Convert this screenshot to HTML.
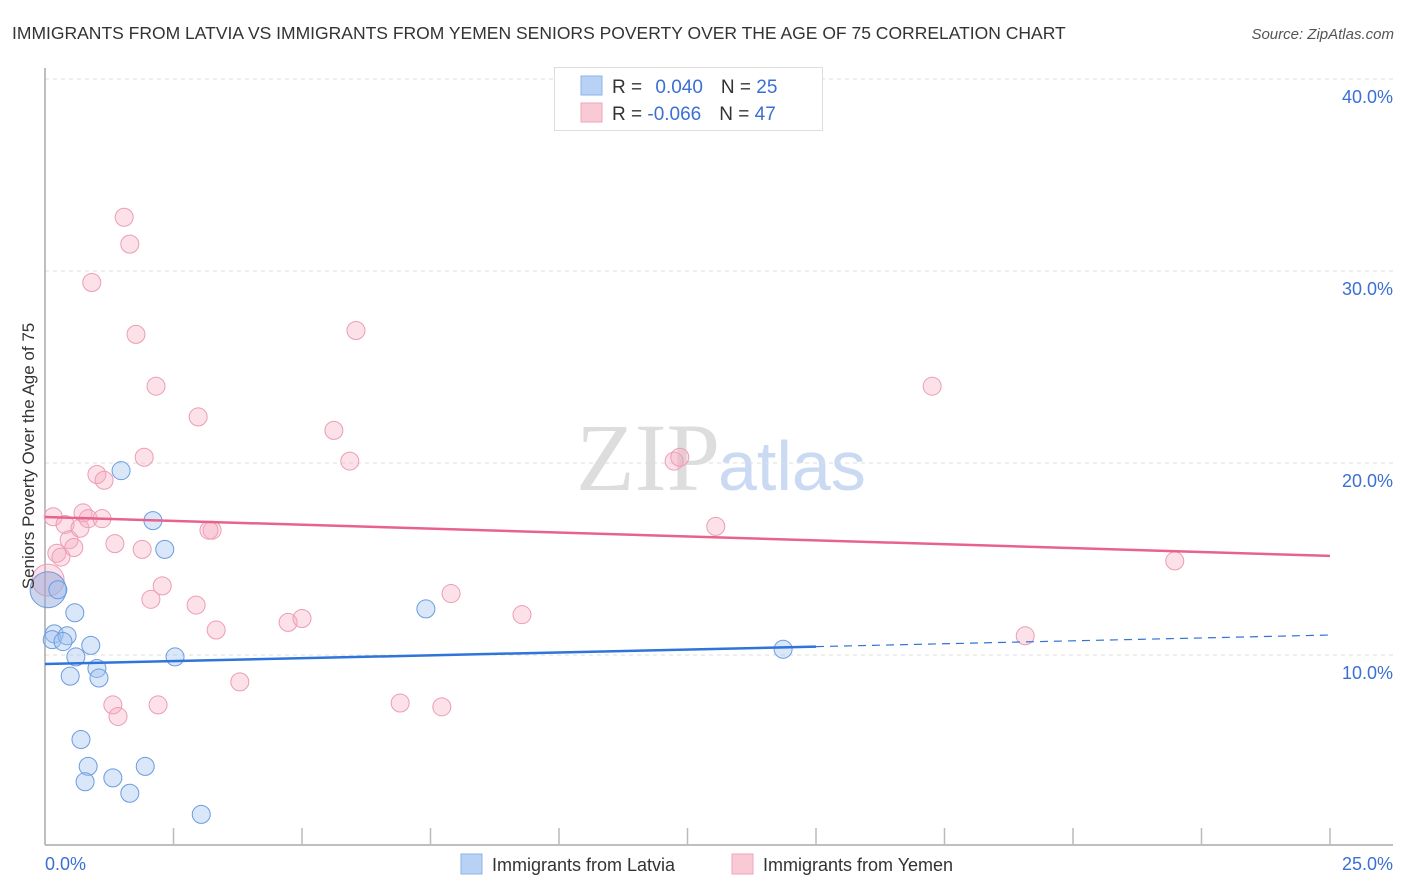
<!DOCTYPE html>
<html><head><meta charset="utf-8"><style>
body{margin:0;background:#fff;font-family:"Liberation Sans",sans-serif;}
svg{display:block}
</style></head><body>
<svg id="chart" width="1406" height="892" xmlns="http://www.w3.org/2000/svg">
<text x="12" y="39" font-size="17.5" fill="#333">IMMIGRANTS FROM LATVIA VS IMMIGRANTS FROM YEMEN SENIORS POVERTY OVER THE AGE OF 75 CORRELATION CHART</text>
<text x="1394" y="39" font-size="15" fill="#555" font-style="italic" text-anchor="end">Source: ZipAtlas.com</text>
<text x="720" y="490" font-size="96" font-family="Liberation Serif,serif" fill="#ddd" text-anchor="end">ZIP</text>
<text x="718" y="490" font-size="70" fill="#c9daf2">atlas</text>
<g id="grid"></g>
<line x1="45" y1="68" x2="45" y2="845" stroke="#aaa" stroke-width="1.5"/>
<line x1="45" y1="845" x2="1393" y2="845" stroke="#aaa" stroke-width="1.5"/>
<g id="ticks"></g>
<g id="pts"></g>
<g id="trend"></g>
<text transform="translate(34,456) rotate(-90)" font-size="17" fill="#333" text-anchor="middle">Seniors Poverty Over the Age of 75</text>
<text x="45" y="870" font-size="18" fill="#3b6fd4">0.0%</text>
<text x="1393" y="870" font-size="18" fill="#3b6fd4" text-anchor="end">25.0%</text>
<g>
<rect x="554.5" y="67.5" width="268" height="63" fill="#fff" stroke="#ddd"/>
<rect x="581" y="76" width="21" height="19" fill="#b8d2f5" stroke="#8fb3e6"/>
<rect x="581" y="103" width="21" height="19" fill="#f9c9d6" stroke="#eea6bb"/>
<text x="612" y="93" font-size="19" fill="#333">R = <tspan fill="#3b6fd4" dx="8">0.040</tspan><tspan dx="18" fill="#333">N = </tspan><tspan fill="#3b6fd4">25</tspan></text>
<text x="612" y="120" font-size="19" fill="#333">R = <tspan fill="#3b6fd4">-0.066</tspan><tspan dx="18" fill="#333">N = </tspan><tspan fill="#3b6fd4">47</tspan></text>
</g>
<g>
<rect x="461" y="854" width="21" height="20" fill="#b8d2f5" stroke="#8fb3e6"/>
<text x="492" y="871" font-size="18" fill="#333">Immigrants from Latvia</text>
<rect x="732" y="854" width="21" height="20" fill="#f9c9d6" stroke="#eea6bb"/>
<text x="763" y="871" font-size="18" fill="#333">Immigrants from Yemen</text>
</g>
</svg>
<script>
const yTicks=[10,20,30,40];
const yTickLabels=["10.0%","20.0%","30.0%","40.0%"];
const xTickVals=[2.5,5,7.5,10,12.5,15,17.5,20,22.5,25];
const latviaX=[0.06,0.25,0.18,0.14,0.43,0.35,0.58,0.60,0.89,0.49,1.01,1.05,1.48,2.10,2.33,2.53,0.70,0.84,0.78,1.32,1.65,1.95,3.04,7.41,14.36];
const latviaY=[13.4,13.4,11.1,10.8,11.0,10.7,12.2,9.9,10.5,8.9,9.3,8.8,19.6,17.0,15.5,9.9,5.6,4.2,3.4,3.6,2.8,4.2,1.7,12.4,10.3];
const yemenX=[0.16,0.39,0.23,0.31,0.47,0.56,0.68,0.74,0.84,1.11,1.01,1.15,1.36,1.89,1.54,1.65,0.91,1.77,2.16,2.98,1.93,2.06,2.28,2.94,3.25,3.19,3.33,3.79,1.32,1.42,2.20,4.73,5.00,5.62,5.93,6.05,6.91,7.72,7.90,9.28,12.24,12.35,13.05,17.26,19.07,21.98,0.06];
const yemenY=[17.2,16.8,15.3,15.1,16.0,15.6,16.6,17.4,17.1,17.1,19.4,19.1,15.8,15.5,32.8,31.4,29.4,26.7,24.0,22.4,20.3,12.9,13.6,12.6,16.5,16.5,11.3,8.6,7.4,6.8,7.4,11.7,11.9,21.7,20.1,26.9,7.5,7.3,13.2,12.1,20.1,20.3,16.7,24.0,11.0,14.9,13.9];
const latviaTrend=[9.53,11.04];
const yemenTrend=[17.19,15.16];
const NS="http://www.w3.org/2000/svg";
const xs=v=>45+v*51.4, ys=v=>847-v*19.2;
function mk(tag,attrs,parent){const e=document.createElementNS(NS,tag);for(const k in attrs)e.setAttribute(k,attrs[k]);document.getElementById(parent).appendChild(e);return e;}
yTicks.forEach((t,i)=>{
 const l=mk('line',{x1:45,x2:1393,y1:ys(t),y2:ys(t),stroke:'#ddd','stroke-dasharray':'4 4'},'grid');
 
 
 const tx=mk('text',{x:1393,y:ys(t)+24,'font-size':18,fill:'#3b6fd4','text-anchor':'end'},'grid');
 tx.textContent=yTickLabels[i];
 
 
});
xTickVals.forEach(v=>{
 const l=mk('line',{x1:xs(v),x2:xs(v),y1:828,y2:845,stroke:'#bbb','stroke-width':1.5},'ticks');
 
 
});
yemenX.forEach((x,i)=>{
 const big=i===yemenX.length-1;
 const c=mk('circle',{cx:xs(x),cy:ys(yemenY[i]),r:big?16:9,fill:'rgba(246,170,192,0.35)',stroke:'#eb9db4','stroke-width':1},'pts');
 
 
});
latviaX.forEach((x,i)=>{
 const big=i===0;
 const c=mk('circle',{cx:xs(x),cy:ys(latviaY[i]),r:big?18:9,fill:big?'rgba(140,165,215,0.45)':'rgba(160,195,240,0.4)',stroke:'#6c9be0','stroke-width':1},'pts');
 
 
});
const slopeL=(latviaTrend[1]-latviaTrend[0])/25;
let t1=mk('line',{x1:xs(0),y1:ys(latviaTrend[0]),x2:xs(15),y2:ys(latviaTrend[0]+slopeL*15),stroke:'#2f74d8','stroke-width':2.5},'trend');


let t2=mk('line',{x1:xs(15),y1:ys(latviaTrend[0]+slopeL*15),x2:xs(25),y2:ys(latviaTrend[1]),stroke:'#2f74d8','stroke-width':1.2,'stroke-dasharray':'8 6'},'trend');


let t3=mk('line',{x1:xs(0),y1:ys(yemenTrend[0]),x2:xs(25),y2:ys(yemenTrend[1]),stroke:'#e8628c','stroke-width':2.5},'trend');


</script>
</body></html>
